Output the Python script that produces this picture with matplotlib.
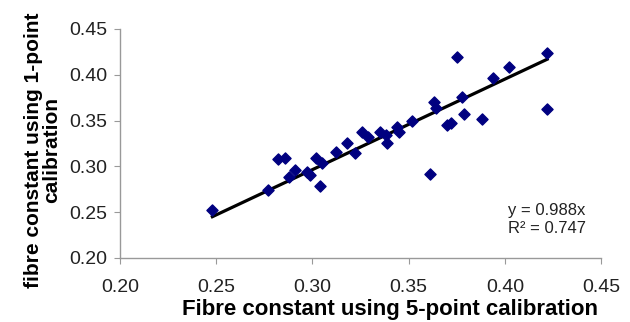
import matplotlib
matplotlib.use("Agg")
import matplotlib.pyplot as plt
import numpy as np

plt.rcParams["font.family"] = ["Liberation Sans", "DejaVu Sans"]

# Fibre constants
five_point = [0.248, 0.277, 0.282, 0.286, 0.288, 0.291, 0.297, 0.299, 0.302, 0.305,
              0.304, 0.312, 0.318, 0.322, 0.326, 0.329, 0.335, 0.338, 0.339, 0.344,
              0.345, 0.352, 0.363, 0.364, 0.361, 0.370, 0.372, 0.375, 0.378, 0.379,
              0.388, 0.394, 0.402, 0.422, 0.422]
one_point = [0.252, 0.274, 0.308, 0.309, 0.288, 0.296, 0.294, 0.291, 0.309, 0.304,
             0.278, 0.316, 0.326, 0.315, 0.338, 0.332, 0.338, 0.334, 0.326, 0.343,
             0.338, 0.349, 0.370, 0.364, 0.292, 0.345, 0.347, 0.419, 0.376, 0.357,
             0.352, 0.397, 0.409, 0.424, 0.363]

slope = 0.988
r_squared = 0.747

fig = plt.figure(figsize=(6.3, 3.22), dpi=100)
ax = fig.add_axes([0.1905, 0.199, 0.7635, 0.711])

ax.scatter(five_point, one_point, marker="D", s=32, color="#000080", zorder=3)

# Trend line through origin
fit_x = np.array([min(five_point), max(five_point)])
ax.plot(fit_x, slope * fit_x, color="black", lw=2.3, zorder=2)

ax.set_xlim(0.20, 0.45)
ax.set_ylim(0.20, 0.45)
ticks = [0.20, 0.25, 0.30, 0.35, 0.40, 0.45]
ax.set_xticks(ticks)
ax.set_yticks(ticks)
ax.set_xticklabels([f"{t:.2f}" for t in ticks])
ax.set_yticklabels([f"{t:.2f}" for t in ticks])
ax.tick_params(direction="out", length=4, color="#999999", labelsize=14,
               labelcolor="#222222")
ax.tick_params(axis="x", pad=11)
ax.tick_params(axis="y", pad=5)

for side in ["top", "right"]:
    ax.spines[side].set_visible(False)
for side in ["left", "bottom"]:
    ax.spines[side].set_color("#999999")
    ax.spines[side].set_linewidth(1)

ax.set_xlabel("Fibre constant using 5-point calibration", fontsize=16,
              fontweight="bold")
ax.xaxis.set_label_coords(0.561, -0.178)
ax.set_ylabel("fibre constant using 1-point\ncalibration", fontsize=15,
              fontweight="bold", linespacing=0.95)
ax.yaxis.set_label_coords(-0.122, 0.47)

ax.text(0.4015, 0.247, f"y = {slope}x", fontsize=12, color="#222222")
ax.text(0.4015, 0.227, f"R² = {r_squared}", fontsize=12, color="#222222")

fig.savefig("out.png", dpi=100)
